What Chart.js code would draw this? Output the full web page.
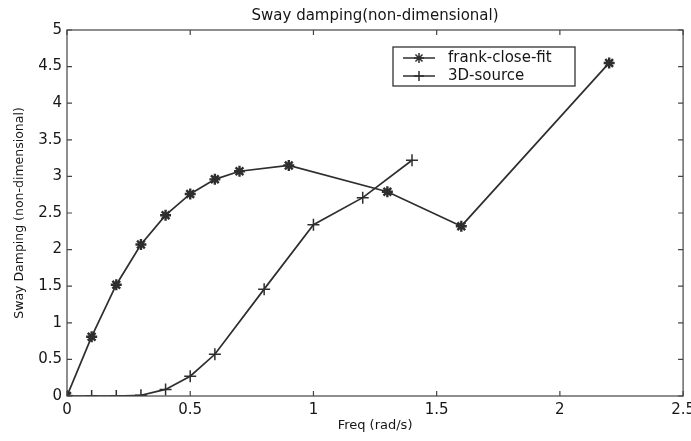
<!DOCTYPE html>
<html>
<head>
<meta charset="utf-8">
<script src="https://cdn.jsdelivr.net/npm/chart.js@4.4.0/dist/chart.umd.min.js"></script>
<style>
html,body{margin:0;padding:0;background:#fff;}
#wrap{width:691px;height:441px;}
</style>
</head>
<body>
<div id="wrap"><canvas id="c" width="691" height="441"></canvas></div>
<script>
// Data
const frankFreq = [0, 0.1, 0.2, 0.3, 0.4, 0.5, 0.6, 0.7, 0.9, 1.3, 1.6, 2.2];
const frankDamp = [0, 0.81, 1.52, 2.07, 2.47, 2.76, 2.96, 3.07, 3.15, 2.79, 2.32, 4.55];
const srcFreq = [0, 0.1, 0.2, 0.3, 0.4, 0.5, 0.6, 0.8, 1.0, 1.2, 1.4];
const srcDamp = [0, 0, 0, 0.01, 0.09, 0.27, 0.57, 1.46, 2.34, 2.71, 3.22];
const xTicks = [0, 0.5, 1, 1.5, 2, 2.5];
const yTicks = [0, 0.5, 1, 1.5, 2, 2.5, 3, 3.5, 4, 4.5, 5];
const seriesNames = ['frank-close-fit', '3D-source'];

const ink = '#2e2e2e';
const txt = '#161616';
const FONT = '"DejaVu Sans", Verdana, sans-serif';

const boxPlugin = {
  id: 'box',
  afterDatasetsDraw(chart) {
    const {ctx, chartArea: a, scales: {x, y}} = chart;
    ctx.save();
    ctx.strokeStyle = '#444';
    ctx.lineWidth = 1.2;
    ctx.strokeRect(a.left, a.top, a.right - a.left, a.bottom - a.top);
    const L = 5;
    ctx.beginPath();
    xTicks.forEach(v => {
      const px = x.getPixelForValue(v);
      ctx.moveTo(px, a.bottom); ctx.lineTo(px, a.bottom - L);
      ctx.moveTo(px, a.top); ctx.lineTo(px, a.top + L);
    });
    yTicks.forEach(v => {
      const py = y.getPixelForValue(v);
      ctx.moveTo(a.left, py); ctx.lineTo(a.left + L, py);
      ctx.moveTo(a.right, py); ctx.lineTo(a.right - L, py);
    });
    ctx.stroke();

    // legend box
    const lx = 393, ly = 47, lw = 182, lh = 39;
    ctx.fillStyle = '#fff';
    ctx.fillRect(lx, ly, lw, lh);
    ctx.strokeStyle = '#333';
    ctx.lineWidth = 1.3;
    ctx.strokeRect(lx, ly, lw, lh);
    const styles = ['star', 'cross'];
    chart.data.datasets.forEach((ds, i) => {
      const yy = ly + 11 + i * 18;
      ctx.strokeStyle = ink;
      ctx.lineWidth = 1.5;
      ctx.beginPath();
      ctx.moveTo(lx + 10, yy); ctx.lineTo(lx + 42, yy);
      ctx.stroke();
      Chart.helpers.drawPoint(ctx, {pointStyle: styles[i], radius: 5, borderWidth: i === 0 ? 2.2 : 1.4}, lx + 26, yy);
      ctx.fillStyle = txt;
      ctx.font = '15px ' + FONT;
      ctx.textBaseline = 'middle';
      ctx.textAlign = 'left';
      ctx.fillText(seriesNames[i], lx + 55, yy);
    });
    ctx.restore();
  }
};

new Chart(document.getElementById('c'), {
  type: 'line',
  data: {
    datasets: [
      {
        label: seriesNames[0],
        data: frankFreq.map((f, i) => ({x: f, y: frankDamp[i]})),
        borderColor: ink, backgroundColor: ink,
        borderWidth: 1.7,
        pointStyle: 'star', pointRadius: 5.5, pointBorderWidth: 2.4,
        pointBorderColor: ink, pointBackgroundColor: ink,
        tension: 0
      },
      {
        label: seriesNames[1],
        data: srcFreq.map((f, i) => ({x: f, y: srcDamp[i]})),
        borderColor: ink, backgroundColor: ink,
        borderWidth: 1.7,
        pointStyle: 'cross', pointRadius: 6, pointBorderWidth: 1.5,
        pointBorderColor: ink, pointBackgroundColor: ink,
        tension: 0
      }
    ]
  },
  options: {
    responsive: false,
    animation: false,
    events: [],
    layout: {padding: {left: 0, right: 7, top: 0, bottom: 0}},
    plugins: {
      legend: {display: false},
      tooltip: {enabled: false},
      title: {
        display: true,
        fullSize: false,
        text: 'Sway damping(non-dimensional)',
        color: txt,
        font: {family: FONT, size: 15, weight: 'normal'},
        padding: {top: 7, bottom: 5}
      }
    },
    scales: {
      x: {
        type: 'linear', min: 0, max: 2.5,
        afterBuildTicks: s => { s.ticks = xTicks.map(v => ({value: v})); },
        afterFit: s => { s.height = 45; s.paddingLeft = 0; s.paddingRight = 0; },
        grid: {display: false, drawTicks: false},
        border: {display: false},
        ticks: {color: txt, font: {family: FONT, size: 15}, padding: 5, maxRotation: 0, autoSkip: false,
          callback: v => String(v)},
        title: {display: true, text: 'Freq (rad/s)', color: txt, font: {family: FONT, size: 13}, padding: {top: 0, bottom: 8}}
      },
      y: {
        type: 'linear', min: 0, max: 5,
        afterBuildTicks: s => { s.ticks = yTicks.map(v => ({value: v})); },
        afterFit: s => { s.width = 67; s.paddingTop = 0; s.paddingBottom = 0; },
        grid: {display: false, drawTicks: false},
        border: {display: false},
        ticks: {color: txt, font: {family: FONT, size: 15}, padding: 5, autoSkip: false,
          callback: v => String(v)},
        title: {display: true, text: 'Sway Damping (non-dimensional)', color: txt, font: {family: FONT, size: 12.5}, padding: {top: 12, bottom: 0}}
      }
    }
  },
  plugins: [boxPlugin]
});
</script>
</body>
</html>
